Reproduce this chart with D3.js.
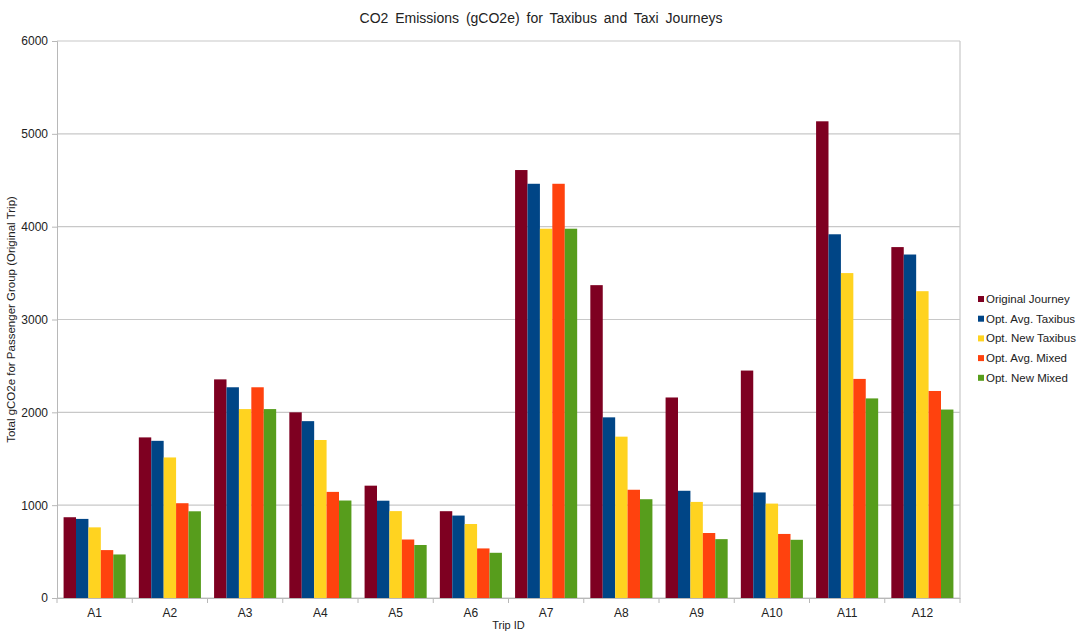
<!DOCTYPE html>
<html>
<head>
<meta charset="utf-8">
<script src="https://cdn.jsdelivr.net/npm/d3@7"></script>
<style>
  body { margin: 0; background: #fff; }
  svg { font-family: "Liberation Sans", Arial, sans-serif; }
</style>
</head>
<body>
<svg id="chart" width="1077" height="632"></svg>
<script>
const trips = ["A1", "A2", "A3", "A4", "A5", "A6", "A7", "A8", "A9", "A10", "A11", "A12"];
const seriesNames = ["Original Journey", "Opt. Avg. Taxibus", "Opt. New Taxibus", "Opt. Avg. Mixed", "Opt. New Mixed"];
const seriesColors = ["#7e0021", "#004586", "#ffd320", "#ff420e", "#579d1c"];

const originalJourney = [870, 1730, 2355, 2000, 1210, 935, 4610, 3370, 2160, 2450, 5135, 3780];
const optAvgTaxibus   = [852, 1693, 2270, 1905, 1048, 888, 4462, 1946, 1155, 1137, 3918, 3700];
const optNewTaxibus   = [761, 1514, 2035, 1702, 936, 797, 3978, 1738, 1035, 1017, 3500, 3305];
const optAvgMixed     = [516, 1021, 2270, 1143, 630, 534, 4462, 1166, 700, 690, 2360, 2230];
const optNewMixed     = [469, 934, 2035, 1050, 571, 487, 3978, 1064, 634, 627, 2150, 2030];
const yTicks = [0, 1000, 2000, 3000, 4000, 5000, 6000];

const allSeries = [originalJourney, optAvgTaxibus, optNewTaxibus, optAvgMixed, optNewMixed];

const plotLeft = 57, plotRight = 960, plotTop = 41, plotBottom = 598;
const svg = d3.select("#chart");

const x0 = d3.scaleBand().domain(trips).range([plotLeft, plotRight]);
const x1 = d3.scaleBand().domain(seriesNames)
    .range([0, x0.bandwidth()])
    .paddingOuter(0.53);
const y = d3.scaleLinear().domain([0, 6000]).range([plotBottom, plotTop]);

// grid lines
svg.append("g")
    .selectAll("line")
    .data(yTicks)
    .enter()
    .append("line")
    .attr("x1", plotLeft).attr("x2", plotRight)
    .attr("y1", d => y(d)).attr("y2", d => y(d))
    .attr("stroke", "#c8c8c8")
    .attr("stroke-width", 1.2);

// right border
svg.append("line")
    .attr("x1", plotRight).attr("x2", plotRight)
    .attr("y1", plotTop).attr("y2", plotBottom)
    .attr("stroke", "#c8c8c8")
    .attr("stroke-width", 1.2);

// bars
const groups = svg.append("g")
    .selectAll("g")
    .data(trips)
    .enter()
    .append("g")
    .attr("transform", d => "translate(" + x0(d) + ",0)");

groups.selectAll("rect")
    .data((d, i) => seriesNames.map((s, j) => ({ name: s, value: allSeries[j][i], color: seriesColors[j] })))
    .enter()
    .append("rect")
    .attr("x", d => x1(d.name))
    .attr("width", x1.bandwidth())
    .attr("y", d => y(d.value))
    .attr("height", d => y(0) - y(d.value))
    .attr("fill", d => d.color);

// y axis, plain numbers without the thousands comma
const yAxis = d3.axisLeft(y)
    .tickValues(yTicks)
    .tickFormat(d3.format("d"))
    .tickSize(5)
    .tickPadding(4);
const gy = svg.append("g")
    .attr("transform", "translate(" + plotLeft + ",0)")
    .call(yAxis);
gy.select(".domain").attr("stroke", "#b8b8b8");
gy.selectAll(".tick line").attr("stroke", "#b8b8b8");
gy.selectAll("text").attr("font-size", 12).attr("fill", "#222");

// x axis: ticks sit between the groups
const xAxis = d3.axisBottom(x0).tickSize(0).tickPadding(10);
const gx = svg.append("g")
    .attr("transform", "translate(0," + plotBottom + ")")
    .call(xAxis);
gx.select(".domain").attr("stroke", "#b8b8b8");
gx.selectAll("text").attr("font-size", 12).attr("fill", "#222");
gx.selectAll(".sep")
    .data(trips.concat(["end"]))
    .enter()
    .append("line")
    .attr("x1", (d, i) => plotLeft + i * x0.step())
    .attr("x2", (d, i) => plotLeft + i * x0.step())
    .attr("y1", 0).attr("y2", 5)
    .attr("stroke", "#b8b8b8");

// title
svg.append("text")
    .attr("x", 541).attr("y", 23)
    .attr("text-anchor", "middle")
    .attr("font-size", 14)
    .attr("word-spacing", 3)
    .attr("fill", "#222")
    .text("CO2 Emissions (gCO2e) for Taxibus and Taxi Journeys");

// axis titles
svg.append("text")
    .attr("transform", "translate(15," + ((plotTop + plotBottom) / 2) + ") rotate(-90)")
    .attr("text-anchor", "middle")
    .attr("font-size", 11.5)
    .attr("fill", "#222")
    .text("Total gCO2e for Passenger Group (Original Trip)");

svg.append("text")
    .attr("x", (plotLeft + plotRight) / 2).attr("y", 629)
    .attr("text-anchor", "middle")
    .attr("font-size", 11)
    .attr("fill", "#222")
    .text("Trip ID");

// legend
const legend = svg.append("g")
    .selectAll("g")
    .data(seriesNames)
    .enter()
    .append("g")
    .attr("transform", (d, i) => "translate(978," + (299 + i * 19.7) + ")");

legend.append("rect")
    .attr("x", 0).attr("y", -3)
    .attr("width", 6).attr("height", 6)
    .attr("fill", (d, i) => seriesColors[i]);

legend.append("text")
    .attr("x", 8).attr("y", 4)
    .attr("font-size", 11.5)
    .attr("fill", "#222")
    .text(d => d);
</script>
</body>
</html>
